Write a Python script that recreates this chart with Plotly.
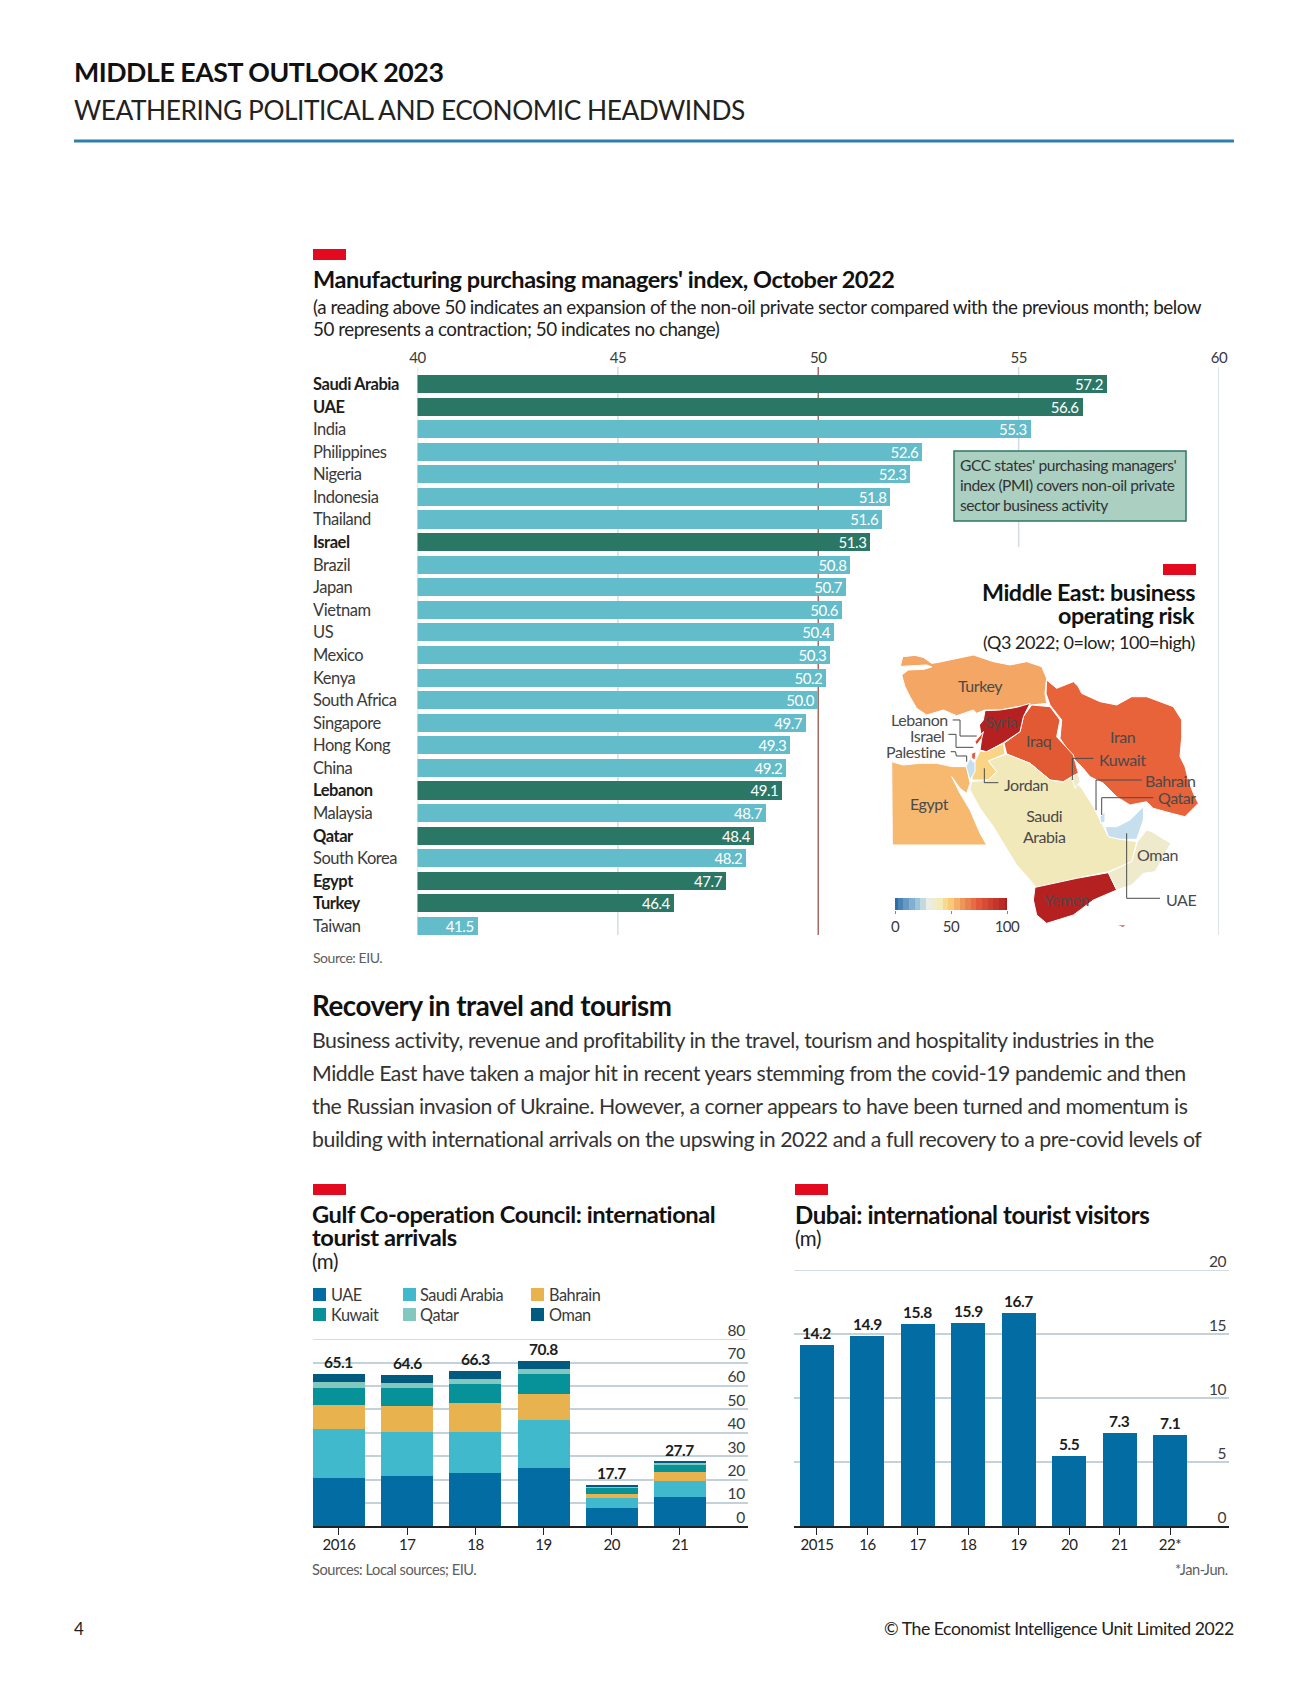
import plotly.graph_objects as go

W, H = 1309, 1683
FONT = "Lato"
INK = "#1d1d1b"
BODY = "#3a3a3a"
GREY = "#5d5d5d"
RED = "#E3091F"

# ---------- data: PMI ----------
pmi_countries = ["Saudi Arabia", "UAE", "India", "Philippines", "Nigeria", "Indonesia", "Thailand", "Israel",
                 "Brazil", "Japan", "Vietnam", "US", "Mexico", "Kenya", "South Africa", "Singapore", "Hong Kong",
                 "China", "Lebanon", "Malaysia", "Qatar", "South Korea", "Egypt", "Turkey", "Taiwan"]
pmi_values = [57.2, 56.6, 55.3, 52.6, 52.3, 51.8, 51.6, 51.3, 50.8, 50.7, 50.6, 50.4, 50.3, 50.2, 50.0,
              49.7, 49.3, 49.2, 49.1, 48.7, 48.4, 48.2, 47.7, 46.4, 41.5]
pmi_regional = ["Saudi Arabia", "UAE", "Israel", "Lebanon", "Qatar", "Egypt", "Turkey"]
pmi_ticks = [40, 45, 50, 55, 60]

# ---------- data: GCC arrivals ----------
gcc_years = ["2016", "17", "18", "19", "20", "21"]
gcc_uae = [20.7, 21.5, 22.8, 25.0, 7.8, 12.5]
gcc_saudi = [21.0, 18.8, 17.6, 20.5, 4.3, 6.9]
gcc_bahrain = [10.3, 11.1, 12.4, 11.1, 1.7, 3.8]
gcc_kuwait = [7.3, 7.7, 8.1, 8.6, 2.6, 3.0]
gcc_qatar = [2.6, 2.1, 2.1, 2.1, 0.4, 0.9]
gcc_oman = [3.2, 3.4, 3.3, 3.5, 0.9, 0.6]
gcc_totals = [65.1, 64.6, 66.3, 70.8, 17.7, 27.7]
gcc_ticks = [0, 10, 20, 30, 40, 50, 60, 70, 80]

# ---------- data: Dubai ----------
dubai_years = ["2015", "16", "17", "18", "19", "20", "21", "22*"]
dubai_visitors = [14.2, 14.9, 15.8, 15.9, 16.7, 5.5, 7.3, 7.1]
dubai_ticks = [0, 5, 10, 15, 20]

# ---------- data: map outlines (lon, lat) and risk colours ----------
map_countries = {
    "Turkey": ("#F4A664", [(26.29,41.82),(27.83,41.96),(28.88,41.75),(29.92,41.12),(30.54,41.19),(33.04,41.65),(35.13,42),(37.63,41.3),(39.71,40.95),(41.79,41.3),(43.67,40.77),(44.29,39.54),(44.08,37.96),(44.29,36.91),(42.63,36.74),(40.54,36.56),(38.46,36.21),(36.58,36.21),(35.54,35.86),(35.13,36.21),(33.04,35.61),(31.38,36.21),(29.29,35.68),(28.04,36.39),(27.21,37.61),(26.58,38.67),(26.17,39.89),(27,40.42),(29,40.5),(29.92,40.75),(29.3,40.95),(27,40.85),(26,40.8)]),
    "Iran": ("#E8623A", [(44.29,39.37),(45.54,38.49),(47.63,39.19),(48.25,38.67),(48.67,37.96),(50.96,37.09),(53.04,36.74),(54.92,37.61),(56.79,37.61),(60.13,36.56),(61.17,35.16),(61.17,33.4),(60.96,31.3),(61.58,30.25),(62,28.84),(62.63,27.44),(63.25,26.39),(61.58,24.98),(59.92,25.33),(57.63,25.86),(56.79,26.56),(54.71,26.21),(53.04,27.09),(51.38,28.49),(49.71,29.19),(48.67,30.25),(47.63,31.12),(45.96,33.23),(46.17,35.16),(44.71,36.74),(44.21,37.96)]),
    "Iraq": ("#E25A33", [(42.42,36.74),(44.71,36.56),(45.96,35.16),(45.54,33.4),(47.63,31.47),(48.25,29.54),(47.42,29.19),(46.38,28.67),(44.71,28.84),(42.21,30.6),(39.29,31.58),(38.96,32.7),(40.96,33.93),(41.38,35.51)]),
    "Syria": ("#B52121", [(36.58,36.14),(38.46,36.21),(40.54,36.49),(42.21,36.91),(41.38,35.51),(40.96,33.93),(38.88,32.77),(36.79,31.82),(35.96,32),(36.17,33.23),(35.88,34.63),(36.38,35.16)]),
    "Jordan": ("#F9D485", [(38.88,32.7),(39.08,31.58),(37,30.85),(38.04,29.72),(37,28.84),(34.92,28.84),(35.33,30.77),(35.96,31.89),(36.79,31.82)]),
    "Saudi Arabia": ("#F2E9BA", [(34.92,28.67),(37,28.84),(38.04,29.72),(37,30.85),(39.29,31.58),(42.21,30.6),(44.71,28.84),(46.38,28.6),(47.42,29.19),(48.67,27.96),(50.13,26.04),(51.38,23.93),(52,22.88),(53.46,22.6),(55.54,22.35),(54.92,20.25),(52,19.19),(48.04,18.49),(43.04,17.44),(42.21,18.32),(40.54,19.89),(38.88,22.18),(37.63,23.93),(35.96,25.86),(34.71,27.79)]),
    "Yemen": ("#B52121", [(42.83,17.54),(48.04,18.49),(52,19.09),(53.04,17.26),(50.13,16.21),(47.63,14.63),(44.29,13.75),(43.04,14.63),(42.63,16.21)]),
    "Socotra": ("#B52121", [(53.04,13.58),(54.25,13.58),(53.83,13.33)]),
    "Oman": ("#EEEACB", [(55.63,22.35),(56.79,23.58),(57.42,23.4),(59.79,22.18),(58.67,20.42),(57.83,19.19),(56.38,19.02),(54.92,17.79),(53.04,17.26),(52,19.09),(54.92,20.25)]),
    "UAE": ("#C6DFEE", [(51.58,23.93),(53.04,23.93),(54.71,24.63),(56.38,26.04),(56.38,24.63),(55.54,22.6),(53.46,22.6),(52,22.88)]),
    "Qatar": ("#C6DFEE", [(50.96,24.98),(51.58,25.51),(51.58,24.46),(51.04,24.28)]),
    "Kuwait": ("#EEEACB", [(47.42,29.19),(48.25,29.54),(48.46,28.67),(47.83,27.96)]),
    "Bahrain": ("#C6DFEE", [(50.35,25.9),(50.6,25.9),(50.55,25.5),(50.38,25.5)]),
    "Egypt": ("#F7B970", [(24.92,30.77),(26.38,30.42),(28.46,30.6),(30.54,30.6),(32.42,30.25),(34.29,30.25),(34.71,28.49),(34.29,27.44),(33.46,27.96),(32.42,29.19),(33.46,27.44),(34.71,25.68),(35.96,23.23),(36.79,22),(25,22)]),
    "Israel": ("#C6DFEE", [(34.71,31.12),(35.33,30.6),(35.33,29.72),(34.71,28.84),(34.21,30.25)]),
    "Lebanon": ("#D9472B", [(35.33,32.88),(36.38,33.93),(36.17,33.23),(35.54,32.53)]),
    "Palestine": ("#E2583A", [(34.92,31.65),(35.46,31.82),(35.33,30.95),(34.92,31.12)]),
}
map_leaders = [
    [(32.54,35.16),(33.46,35.16),(33.46,33.47),(35.54,33.47)],
    [(32,33.65),(32.96,33.65),(32.96,32.28),(35.13,32.28)],
    [(32.29,31.82),(32.9,31.82),(33,31.37),(34.29,31.37),(34.29,30.77)],
    [(36.5,30.07),(36.5,28.56),(38.25,28.56)],
    [(50.13,31.12),(47.5,31.12),(47.5,28.84)],
    [(56.17,28.84),(50.46,28.84),(50.46,25.68)],
    [(57.63,26.98),(51.17,26.98),(51.17,25.16)],
    [(54.29,23.23),(54.29,16.39),(58.46,16.39)],
]
map_labels = [
    ("Turkey", 35.96, 38.77, "center"), ("Syria", 38.54, 34.98, "center"), ("Iraq", 43.33, 32.95, "center"),
    ("Iran", 53.75, 33.47, "center"), ("Kuwait", 50.54, 30.95, "left"), ("Bahrain", 56.38, 28.74, "left"),
    ("Qatar", 57.92, 27.05, "left"), ("Jordan", 38.67, 28.42, "left"), ("Egypt", 29.63, 26.39, "center"),
    ("Saudi<br>Arabia", 44.0, 23.95, "center"), ("Oman", 58.13, 20.95, "center"), ("UAE", 59.0, 16.28, "left"),
    ("Yemen", 46.79, 16.21, "center"), ("Lebanon", 32.21, 35.26, "right"), ("Israel", 31.67, 33.51, "right"),
    ("Palestine", 31.88, 31.89, "right"),
]
risk_scale_values = [0, 5, 10, 15, 20, 25, 30, 35, 40, 45, 50, 55, 60, 65, 70, 75, 80, 85, 90, 95, 100]
risk_scale_colors = [[0, "#2F6FA8"], [0.2, "#9CC4DC"], [0.3, "#E8EEE5"], [0.4, "#F5E9B5"], [0.5, "#F9C976"],
                     [0.6, "#F0955A"], [0.75, "#E2583A"], [1, "#B01E22"]]

gcc_series = [("UAE", gcc_uae, "#036CA3"), ("Saudi Arabia", gcc_saudi, "#41B9CC"), ("Bahrain", gcc_bahrain, "#E8B34E"),
              ("Kuwait", gcc_kuwait, "#079198"), ("Qatar", gcc_qatar, "#83C7BF"), ("Oman", gcc_oman, "#005B7F")]

GRIDLINE = "#C3D2DA"
TEXT_PAD = 2  # plotly pads annotation boxes; offset so glyph edges land on the intended x


def px(x):
    return x / W


def py(y):
    return 1 - y / H


annotations = []
shapes = []


def note(text, x, y, size, color=BODY, bold=False, anchor="left", valign="middle"):
    x = x - TEXT_PAD if anchor == "left" else x + TEXT_PAD
    annotations.append(dict(text=f"<b>{text}</b>" if bold else text, x=px(x), y=py(y), xref="paper", yref="paper",
                            xanchor=anchor, yanchor=valign, showarrow=False, font=dict(family=FONT, size=size, color=color)))


def rect(x0, y0, x1, y1, fill, line=None):
    shapes.append(dict(type="rect", xref="paper", yref="paper", x0=px(x0), x1=px(x1), y0=py(y0), y1=py(y1),
                       fillcolor=fill, line=dict(color=line or fill, width=1.5 if line else 0)))


fig = go.Figure()

# ---------- PMI bars ----------
fig.add_trace(go.Bar(y=pmi_countries, x=pmi_values, orientation="h", width=0.8, base=0,
                     marker=dict(color=["#2B7766" if c in pmi_regional else "#62BCC9" for c in pmi_countries], line=dict(width=0)),
                     text=[f"{v:.1f}" for v in pmi_values], textposition="inside", insidetextanchor="end", textangle=0,
                     textfont=dict(family=FONT, size=15, color="white"), constraintext="none",
                     cliponaxis=True, xaxis="x", yaxis="y", showlegend=False))
for c in pmi_countries:
    annotations.append(dict(text=f"<b>{c}</b>" if c in pmi_regional else c, x=px(313 - TEXT_PAD), y=c, xref="paper", yref="y",
                            xanchor="left", yanchor="middle", showarrow=False,
                            font=dict(family=FONT, size=16.5, color=INK if c in pmi_regional else BODY)))
for t in pmi_ticks:
    bottom = 547 if t == 55 else 935
    shapes.append(dict(type="line", xref="x", yref="paper", x0=t, x1=t, y0=py(367), y1=py(bottom), layer="below",
                       line=dict(color="#A96A64" if t == 50 else "#D3DCE1", width=1.5)))

# ---------- GCC stacked bars ----------
for name, vals, color in gcc_series:
    fig.add_trace(go.Bar(x=gcc_years, y=vals, name=name, width=0.7625, marker=dict(color=color, line=dict(width=0)),
                         xaxis="x3", yaxis="y3", showlegend=False))
for i, tot in enumerate(gcc_totals):
    annotations.append(dict(text=f"<b>{tot}</b>", x=i, y=tot, xref="x3", yref="y3", yshift=12, showarrow=False,
                            yanchor="middle", font=dict(family=FONT, size=15.5, color=INK)))
shapes.append(dict(type="line", xref="x3 domain", yref="y3", x0=0, x1=1, y0=gcc_ticks[-1], y1=gcc_ticks[-1], layer="below",
                   line=dict(color=GRIDLINE, width=1.5)))

# ---------- Dubai bars ----------
fig.add_trace(go.Bar(x=dubai_years, y=dubai_visitors, width=0.674, marker=dict(color="#036CA3", line=dict(width=0)),
                     xaxis="x4", yaxis="y4", showlegend=False))
for i, v in enumerate(dubai_visitors):
    annotations.append(dict(text=f"<b>{v}</b>", x=i, y=v, xref="x4", yref="y4", yshift=12, showarrow=False,
                            yanchor="middle", font=dict(family=FONT, size=15.5, color=INK)))
shapes.append(dict(type="line", xref="x4 domain", yref="y4", x0=0, x1=1, y0=dubai_ticks[-1], y1=dubai_ticks[-1], layer="below",
                   line=dict(color=GRIDLINE, width=1.5)))

# ---------- map ----------
for name, (color, outline) in map_countries.items():
    pts = outline + [outline[0]]
    fig.add_trace(go.Scatter(x=[p[0] for p in pts], y=[p[1] for p in pts], mode="lines", fill="toself", fillcolor=color,
                             line=dict(color="white", width=1), name=name, xaxis="x2", yaxis="y2", showlegend=False,
                             hoverinfo="name"))
for leader in map_leaders:
    fig.add_trace(go.Scatter(x=[p[0] for p in leader], y=[p[1] for p in leader], mode="lines",
                             line=dict(color="#4a4a4a", width=1), xaxis="x2", yaxis="y2", showlegend=False, hoverinfo="skip"))
for text, lon, lat, anchor in map_labels:
    annotations.append(dict(text=text, x=lon, y=lat, xref="x2", yref="y2", xanchor=anchor, yanchor="middle", showarrow=False,
                            font=dict(family=FONT, size=16, color="#4a4a4a")))

# ---------- risk scale ----------
fig.add_trace(go.Heatmap(x=risk_scale_values, y=[0], z=[risk_scale_values], colorscale=risk_scale_colors, zmin=0, zmax=100,
                         showscale=False, xaxis="x5", yaxis="y5", hoverinfo="skip"))

# ---------- page text ----------
note("MIDDLE EAST OUTLOOK 2023", 74, 72, 26.7, "#111111", True)
note("WEATHERING POLITICAL AND ECONOMIC HEADWINDS", 74, 110.5, 26.3, "#222222")
shapes.append(dict(type="line", xref="paper", yref="paper", x0=px(74), x1=px(1234), y0=py(141), y1=py(141),
                   line=dict(color="#2F7FAE", width=3)))

rect(313, 249, 346, 260, RED)
note("Manufacturing purchasing managers' index, October 2022", 313, 279, 23.5, "#111111", True)
note("(a reading above 50 indicates an expansion of the non-oil private sector compared with the previous month; below", 313, 306, 18.8, "#222222")
note("50 represents a contraction; 50 indicates no change)", 313, 328, 18.8, "#222222")
note("Source: EIU.", 313, 958, 14, GREY)

rect(954, 451, 1186, 521, "#ABD0C2", "#2B7766")
for i, line in enumerate(["GCC states' purchasing managers'", "index (PMI) covers non-oil private", "sector business activity"]):
    note(line, 960, 465 + 20 * i, 15.6, "#333333")

rect(1163, 564, 1196, 575, RED)
note("Middle East: business", 1195, 592, 23.3, "#111111", True, "right")
note("operating risk", 1195, 615, 23.3, "#111111", True, "right")
note("(Q3 2022; 0=low; 100=high)", 1195, 642, 18, "#222222", False, "right")

note("Recovery in travel and tourism", 312, 1005, 27.7, "#111111", True)
paragraph = ["Business activity, revenue and profitability in the travel, tourism and hospitality industries in the",
             "Middle East have taken a major hit in recent years stemming from the covid-19 pandemic and then",
             "the Russian invasion of Ukraine. However, a corner appears to have been turned and momentum is",
             "building with international arrivals on the upswing in 2022 and a full recovery to a pre-covid levels of"]
for i, line in enumerate(paragraph):
    note(line, 312, 1040 + 33 * i, 21.3, "#333333")

rect(313, 1184, 346, 1195, RED)
note("Gulf Co-operation Council: international", 312, 1214, 23.7, "#111111", True)
note("tourist arrivals", 312, 1237, 23.7, "#111111", True)
note("(m)", 312, 1261, 20.5, "#222222")
legend_x = [(313, 330.5), (403, 420), (531, 549)]
for i, (name, vals, color) in enumerate(gcc_series):
    col = i % 3 if i < 3 else i - 3
    row = 0 if i < 3 else 1
    y0 = 1288 + 20 * row
    rect(legend_x[col][0], y0, legend_x[col][0] + 13, y0 + 13, color)
    note(name, legend_x[col][1], y0 + 6.5, 16.3, "#3a3a3a")
note("Sources: Local sources; EIU.", 312, 1569, 14.6, GREY)

rect(795, 1184, 828, 1195, RED)
note("Dubai: international tourist visitors", 795, 1214, 24, "#111111", True)
note("(m)", 795, 1238, 20.5, "#222222")
note("*Jan-Jun.", 1228, 1569, 14.6, GREY, False, "right")

note("4", 74, 1628, 17, "#222222")
note("© The Economist Intelligence Unit Limited 2022", 1234, 1628, 17.6, "#222222", False, "right")


def dom_x(a, b):
    return [px(a), px(b)]


def dom_y(top, bottom):
    return [py(bottom), py(top)]


def right_axis(top, bottom, ticks, rng, anchor):
    return dict(domain=dom_y(top, bottom), range=rng, anchor=anchor, side="right", tickvals=ticks, ticklabelposition="inside",
                ticklabeloverflow="allow", ticklabelshift=-9, showgrid=True, gridcolor=GRIDLINE, gridwidth=1.5, zeroline=False,
                showline=False, ticks="", tickfont=dict(family=FONT, size=15.5, color="#3a3a3a"))


def bottom_axis(left, right, rng, anchor):
    return dict(domain=dom_x(left, right), range=rng, anchor=anchor, type="category", showgrid=False, zeroline=False,
                showline=True, linecolor="#222222", linewidth=1.5, ticks="outside", ticklen=7, tickcolor="#222222", tickwidth=1,
                tickfont=dict(family=FONT, size=15, color="#222222"), ticklabelstandoff=-3)


fig.update_layout(
    width=W, height=H, autosize=False, margin=dict(l=0, r=0, t=0, b=0, pad=0, autoexpand=False), paper_bgcolor="white", plot_bgcolor="rgba(0,0,0,0)",
    barmode="stack", showlegend=False, font=dict(family=FONT), annotations=annotations, shapes=shapes,
    xaxis=dict(domain=dom_x(417.5, 1219), range=[40, 60], side="top", anchor="y", tickvals=pmi_ticks, showgrid=False, zeroline=False,
               showline=False, ticks="", tickfont=dict(family=FONT, size=15, color="#3a3a3a")),
    yaxis=dict(domain=dom_y(367, 935), range=[24.4, -0.753], anchor="x", type="category", categoryorder="array",
               categoryarray=pmi_countries, showticklabels=False, showgrid=False, zeroline=False, showline=False, ticks=""),
    xaxis2=dict(domain=dom_x(860, 1220), range=[20.958, 65.958], anchor="y2", visible=False),
    yaxis2=dict(domain=dom_y(550, 950), range=[10.947, 53.053], anchor="x2", visible=False),
    xaxis3=bottom_axis(313, 747.7, [-0.381, 5.993], "y3"),
    yaxis3=right_axis(1339.3, 1526.3, gcc_ticks, [0, 80], "x3"),
    xaxis4=bottom_axis(794.3, 1229, [-0.45, 8.17], "y4"),
    yaxis4=right_axis(1270.3, 1526.3, dubai_ticks, [0, 20], "x4"),
    xaxis5=dict(domain=dom_x(895, 1007), range=[0, 100], anchor="y5", tickvals=[0, 50, 100], ticks="outside", ticklen=3,
                tickcolor="#888888", showgrid=False, zeroline=False, showline=False,
                tickfont=dict(family=FONT, size=15, color="#3a3a3a")),
    yaxis5=dict(domain=dom_y(898, 910), anchor="x5", visible=False),
)

# Tighter tracking, as in the reference. Nudging each annotation's font size makes
# plotly drop its cached text measurement, so left/right anchors stay true.
TIGHTEN = ("document.body.style.margin='0';document.body.style.overflow='hidden';"
           "var s=document.createElement('style');s.textContent='text{letter-spacing:-0.45px}';document.head.appendChild(s);"
           "var gd=document.getElementById('{plot_id}');"
           "gd.layout.annotations.forEach(function(a){a.font.size+=0.01;});"
           "Plotly.redraw(gd);")
fig.write_html("out.html", config=dict(displayModeBar=False), post_script=TIGHTEN)
